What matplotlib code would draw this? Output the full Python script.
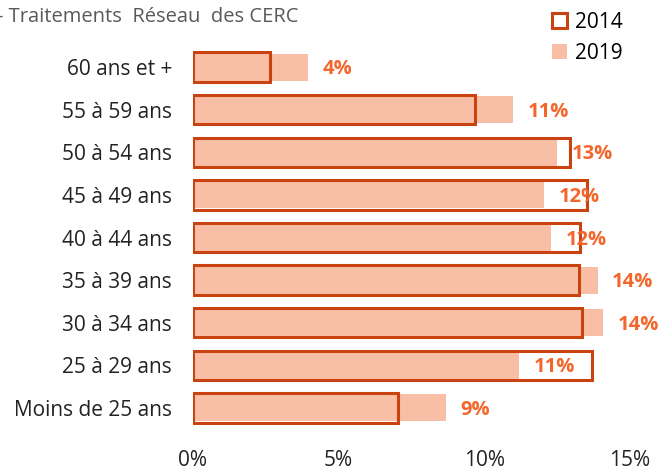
import numpy as np
import matplotlib
matplotlib.use("Agg")
import matplotlib.pyplot as plt
from matplotlib.patches import Patch

plt.rcParams['font.family'] = ['Open Sans', 'DejaVu Sans']

# tranches d'age, du haut vers le bas
ages = ["60 ans et +", "55 à 59 ans", "50 à 54 ans", "45 à 49 ans", "40 à 44 ans",
        "35 à 39 ans", "30 à 34 ans", "25 à 29 ans", "Moins de 25 ans"]
part_2014 = [2.65, 9.7, 12.95, 13.55, 13.3, 13.25, 13.35, 13.7, 7.05]
part_2019 = [3.95, 11.0, 12.5, 12.05, 12.3, 13.9, 14.1, 11.2, 8.7]
labels_2019 = ["4%", "11%", "13%", "12%", "12%", "14%", "14%", "11%", "9%"]
xticks = [0, 5, 10, 15]

fill_col = "#F8BFA6"
edge_col = "#C8430F"
lab_col = "#F4672C"
fs = 15

fig = plt.figure(figsize=(6.58, 4.68), dpi=100)
ax = fig.add_axes([0.293, 0.083, 0.664, 0.819])

y = np.arange(len(ages))[::-1]
ax.barh(y, part_2019, height=0.63, color=fill_col, linewidth=0)
ax.barh(y, part_2014, height=0.69, facecolor="none", edgecolor=edge_col, linewidth=2.2)

for yi, v, t in zip(y, part_2019, labels_2019):
    ax.annotate(t, (v, yi), xytext=(10.5, -1.5), textcoords="offset points",
                ha="left", va="center", color=lab_col, fontsize=fs - 0.5, fontweight="bold")

ax.set_xlim(0, 15)
ax.set_ylim(-0.5, len(ages) - 0.5)
ax.set_yticks(y)
ax.set_yticklabels(ages, fontsize=fs, color="#222222")
ax.set_xticks(xticks)
ax.set_xticklabels([f"{t}%" for t in xticks], fontsize=fs, color="#222222")
ax.tick_params(axis="y", length=0, pad=15)
ax.tick_params(axis="x", length=0, pad=15)
for s in ax.spines.values():
    s.set_visible(False)

handles = [Patch(facecolor="white", edgecolor=edge_col, linewidth=2.2, label="2014"),
           Patch(facecolor=fill_col, edgecolor="none", label="2019")]
fig.legend(handles=handles, loc="upper left", bbox_to_anchor=(533 / 658, 1 + 7 / 468),
           frameon=False, fontsize=fs, handlelength=0.75, handleheight=0.75,
           handletextpad=0.35, labelspacing=0.48)

fig.text(-3 / 658, 1 - 17 / 468, "- Traitements  Réseau  des CERC", fontsize=fs - 0.5,
         color="#595959", ha="left", va="center")

fig.savefig("out.png", dpi=100)
